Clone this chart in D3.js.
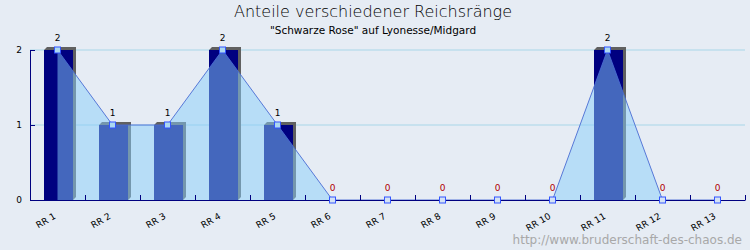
<!DOCTYPE html>
<html>
<head>
<meta charset="utf-8">
<script src="https://cdn.jsdelivr.net/npm/d3@7"></script>
<style>
  body { margin: 0; background: #e6ecf4; }
  svg { display: block; }
  text { font-family: "DejaVu Sans", sans-serif; }
</style>
</head>
<body>
<svg id="chart" width="750" height="250"></svg>
<script>
// Data
const categories = ["RR 1", "RR 2", "RR 3", "RR 4", "RR 5", "RR 6", "RR 7",
  "RR 8", "RR 9", "RR 10", "RR 11", "RR 12", "RR 13"];
const values = [2, 1, 1, 2, 1, 0, 0, 0, 0, 0, 2, 0, 0];
const yTicks = [0, 1, 2];

const width = 750, height = 250;
const margin = { top: 50, right: 5, bottom: 50, left: 30 };

const svg = d3.select("#chart");

svg.append("rect")
  .attr("width", width)
  .attr("height", height)
  .attr("fill", "#e6ecf4");

// Scales
const x = d3.scaleBand()
  .domain(categories)
  .range([margin.left, width - margin.right]);

const xEdge = d3.scaleLinear()
  .domain([0, categories.length])
  .range([margin.left, width - margin.right]);

const y = d3.scaleLinear()
  .domain([0, 2])
  .range([height - margin.bottom, margin.top]);

const cx = d => x(d) + x.bandwidth() / 2;

// Grid lines
svg.append("g")
  .selectAll("line")
  .data(yTicks.filter(t => t > 0))
  .join("line")
  .attr("x1", margin.left)
  .attr("x2", width - margin.right)
  .attr("y1", d => y(d))
  .attr("y2", d => y(d))
  .attr("stroke", "#a8d6e8")
  .attr("stroke-width", 1);

// 3D bars
const barW = 29, barOff = 14, depth = 3;
const bars = svg.append("g")
  .selectAll("g")
  .data(categories.map((c, i) => ({ c, v: values[i] })).filter(d => d.v > 0))
  .join("g");

bars.append("rect")
  .attr("x", d => x(d.c) + barOff)
  .attr("y", d => y(d.v))
  .attr("width", barW)
  .attr("height", d => y(0) - y(d.v))
  .attr("fill", "#000080");

bars.append("path")
  .attr("fill", "#606060")
  .attr("d", d => {
    const x0 = x(d.c) + barOff, x1 = x0 + barW, t = y(d.v), b = y(0);
    return `M${x0},${t}L${x0 + depth},${t - depth}L${x1 + depth},${t - depth}` +
      `L${x1 + depth},${b - depth}L${x1},${b}L${x1},${t}Z`;
  });

// Area + line
const pts = categories.map((c, i) => [cx(c), y(values[i])]);

svg.append("path")
  .datum(pts)
  .attr("fill", "#87cefa")
  .attr("fill-opacity", 0.5)
  .attr("d", d3.area().x(d => d[0]).y0(y(0)).y1(d => d[1]));

svg.append("path")
  .datum(pts)
  .attr("fill", "none")
  .attr("stroke", "#4a6cd4")
  .attr("stroke-width", 0.9)
  .attr("d", d3.line());

// Axes
const yAxis = svg.append("g")
  .attr("transform", `translate(${margin.left},0)`)
  .call(d3.axisLeft(y).tickValues(yTicks).tickFormat(d3.format("d"))
    .tickSizeInner(-5).tickSizeOuter(0).tickPadding(8));
yAxis.select(".domain").attr("stroke", "#000080");
yAxis.selectAll(".tick line").attr("stroke", "#000080");
yAxis.selectAll("text")
  .attr("font-size", 9)
  .attr("font-family", "DejaVu Sans")
  .attr("fill", "#000");

const xTicks = svg.append("g")
  .attr("transform", `translate(0,${y(0)})`)
  .call(d3.axisBottom(xEdge).tickValues(d3.range(1, categories.length + 1))
    .tickFormat("").tickSizeInner(-5).tickSizeOuter(0));
xTicks.select(".domain").attr("stroke", "#000080").attr("stroke-width", 1.2);
xTicks.selectAll(".tick line").attr("stroke", "#000080");

const xAxis = svg.append("g")
  .attr("transform", `translate(0,${y(0)})`)
  .call(d3.axisBottom(x).tickSize(0).tickPadding(0));
xAxis.select(".domain").remove();
xAxis.selectAll("text")
  .attr("font-size", 9)
  .attr("font-family", "DejaVu Sans")
  .attr("fill", "#000")
  .attr("text-anchor", "end")
  .attr("dy", 0)
  .attr("transform", "translate(-1,18) rotate(-30)");

// Markers
svg.append("g")
  .selectAll("rect")
  .data(pts)
  .join("rect")
  .attr("x", d => d[0] - 3)
  .attr("y", d => d[1] - 3)
  .attr("width", 6)
  .attr("height", 6)
  .attr("fill", (d, i) => values[i] > 0 ? "#acd8f0" : "#d4e2f4")
  .attr("stroke", "#3355ff")
  .attr("stroke-width", 1);

// Value labels
svg.append("g")
  .selectAll("text")
  .data(categories)
  .join("text")
  .attr("x", d => cx(d))
  .attr("y", (d, i) => y(values[i]) - 9)
  .attr("text-anchor", "middle")
  .attr("font-size", 9)
  .attr("fill", (d, i) => values[i] > 0 ? "#000" : "#b00000")
  .text((d, i) => values[i]);

// Titles
svg.append("text")
  .attr("x", 373)
  .attr("y", 17)
  .attr("text-anchor", "middle")
  .attr("font-size", 16)
  .attr("font-weight", 200)
  .attr("fill", "#000")
  .text("Anteile verschiedener Reichsränge");

svg.append("text")
  .attr("x", 373)
  .attr("y", 34)
  .attr("text-anchor", "middle")
  .attr("font-family", "DejaVu Sans Condensed")
  .attr("font-size", 10.5)
  .attr("fill", "#000")
  .text("\"Schwarze Rose\" auf Lyonesse/Midgard");

svg.append("text")
  .attr("x", 742)
  .attr("y", 244)
  .attr("text-anchor", "end")
  .attr("font-size", 12)
  .attr("fill", "#a8a8a8")
  .text("http://www.bruderschaft-des-chaos.de");
</script>
</body>
</html>
